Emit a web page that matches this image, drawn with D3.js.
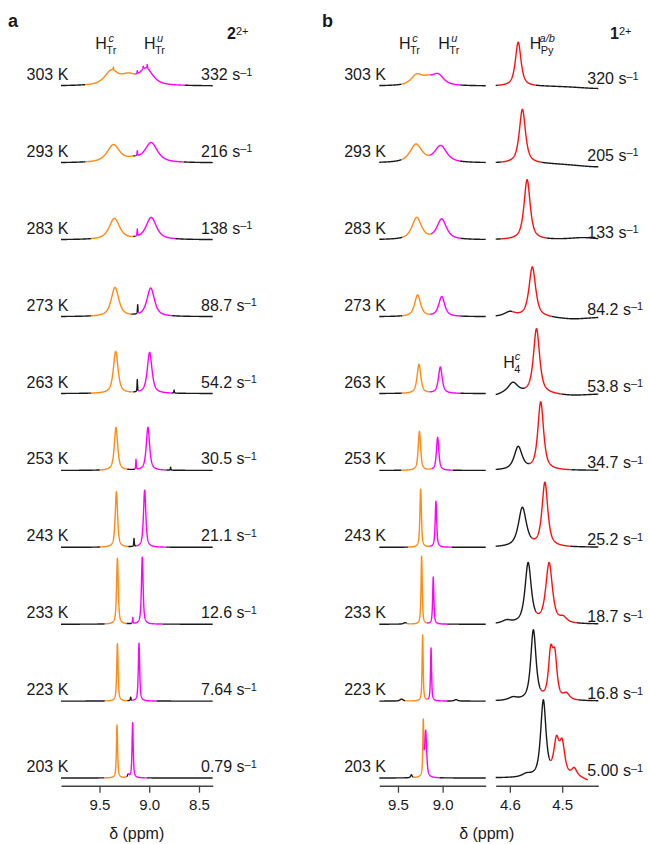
<!DOCTYPE html>
<html>
<head>
<meta charset="utf-8">
<script src="https://cdn.jsdelivr.net/npm/d3@7"></script>
<style>
  body { margin: 0; background: #fff; }
  text { font-family: "Liberation Sans", Arial, sans-serif; fill: #1a1a1a; }
</style>
</head>
<body>
<svg id="chart" width="649" height="844"></svg>
<script>
// ---- data ----
const temps = ["303 K", "293 K", "283 K", "273 K", "263 K", "253 K", "243 K", "233 K", "223 K", "203 K"];
const ratesA = ["332", "216", "138", "88.7", "54.2", "30.5", "21.1", "12.6", "7.64", "0.79"];
const ratesB = ["320", "205", "133", "84.2", "53.8", "34.7", "25.2", "18.7", "16.8", "5.00"];

const ticksA = [9.5, 9.0, 8.5];
const ticksBL = [9.5, 9.0];
const ticksBR = [4.6, 4.5];

// peaks per spectrum: [shift (ppm), height (a.u.), half width (ppm)]
const peaksA = [
  [[9.38, 14, 0.08], [9.21, 9, 0.09], [9.03, 16, 0.08], [9.36, 3, 0.003], [9.12, 3, 0.003], [9.06, 3, 0.003], [9.02, 4, 0.003]],
  [[9.36, 17.5, 0.075], [8.98, 19.5, 0.075], [9.16, 3, 0.08], [9.12, 5, 0.003]],
  [[9.35, 21, 0.062], [8.98, 22, 0.062], [9.12, 7, 0.003]],
  [[9.344, 29, 0.045], [8.985, 28.3, 0.045], [9.116, 9, 0.003]],
  [[9.337, 42, 0.028], [8.996, 41, 0.028], [9.12, 12, 0.003], [8.75, 3, 0.003]],
  [[9.334, 43, 0.02], [9.013, 43, 0.02], [9.133, 10, 0.003], [8.785, 3, 0.003]],
  [[9.33, 55.5, 0.014], [9.046, 57, 0.014], [9.153, 8, 0.003]],
  [[9.32, 66, 0.01], [9.07, 67, 0.01], [9.166, 6, 0.003]],
  [[9.32, 57.5, 0.008], [9.103, 58, 0.008], [9.186, 3.5, 0.004]],
  [[9.324, 53, 0.007], [9.167, 55, 0.007], [9.21, 3, 0.01]]
];
const orangeA = [[9.64, 9.14], [9.64, 9.16], [9.58, 9.16], [9.58, 9.18], [9.58, 9.16],
                 [9.495, 9.22], [9.495, 9.21], [9.445, 9.227], [9.445, 9.22], [9.45, 9.227]];
const magentaA = [[9.14, 8.64], [9.14, 8.65], [9.14, 8.74], [9.11, 8.77], [9.11, 8.77],
                  [9.145, 8.825], [9.127, 8.83], [9.176, 8.865], [9.17, 8.925], [9.21, 9.026]];

const peaksBL = [
  [[9.29, 10, 0.075], [9.165, 6, 0.08], [9.05, 10, 0.075]],
  [[9.298, 18, 0.08], [9.022, 16.5, 0.08]],
  [[9.29, 21.7, 0.063], [9.01, 20.2, 0.063]],
  [[9.28, 21.5, 0.04], [9.01, 19.8, 0.04]],
  [[9.265, 29, 0.025], [9.026, 26.3, 0.025]],
  [[9.26, 39, 0.016], [9.056, 33, 0.016]],
  [[9.246, 58, 0.01], [9.075, 46, 0.01]],
  [[9.235, 68, 0.008], [9.105, 47, 0.008], [9.42, 1.5, 0.02]],
  [[9.224, 66, 0.007], [9.13, 53, 0.007], [9.46, 2, 0.02], [8.85, 1.5, 0.02]],
  [[9.217, 52, 0.006], [9.19, 46, 0.013], [9.35, 3, 0.01]]
];
const orangeB = [[9.46, 9.14], [9.46, 9.14], [9.45, 9.13], [9.45, 9.14], [9.45, 9.14],
                 [9.46, 9.123], [9.385, 9.142], [9.40, 9.18], [9.42, 9.17], [9.33, 9.205]];
const magentaB = [[9.14, 8.80], [9.14, 8.806], [9.13, 8.80], [9.14, 8.80], [9.14, 8.80],
                  [9.123, 8.888], [9.142, 8.899], [9.18, 8.95], [9.17, 8.95], [9.205, 9.03]];

const peaksBR = [
  [[4.584, 44, 0.0064], [4.43, -2.5, 0.05]],
  [[4.576, 54, 0.007], [4.43, -4, 0.06]],
  [[4.567, 60, 0.007], [4.46, 2, 0.03]],
  [[4.557, 50, 0.0075], [4.6, 4.5, 0.012], [4.48, -2.5, 0.04]],
  [[4.549, 65, 0.007], [4.594, 10.5, 0.011], [4.48, -2, 0.04], [4.627, -2, 0.01]],
  [[4.541, 68, 0.0065], [4.584, 23, 0.009]],
  [[4.533, 64, 0.0065], [4.576, 39, 0.009]],
  [[4.525, 60, 0.0075], [4.565, 60, 0.007], [4.498, 5, 0.008], [4.606, 3, 0.01]],
  [[4.522, 44, 0.005], [4.514, 40, 0.005], [4.555, 70, 0.006], [4.492, 6, 0.007], [4.594, 3, 0.01]],
  [[4.511, 33, 0.006], [4.5, 31, 0.006], [4.477, 8, 0.006], [4.536, 76, 0.006], [4.568, 3, 0.01], [4.45, -3, 0.01]]
];
const redB = [[4.623, 4.55], [4.616, 4.539], [4.616, 4.53], [4.595, 4.52], [4.571, 4.501],
              [4.562, 4.482], [4.558, 4.484], [4.549, 4.472], [4.541, 4.469], [4.522, 4.44]];
const endBR = [4.431, 4.431, 4.431, 4.431, 4.431, 4.431, 4.431, 4.431, 4.431, 4.451];

// ---- setup ----
const svg = d3.select("#chart");
const ORANGE = "#ff8a14", MAGENTA = "#ff00ff", RED = "#ff1010", INK = "#1a1a1a";
const ETA = 0.75; // lorentzian fraction of the line shape

const rowY = d3.scalePoint().domain(temps).range([86, 778]);
const yI = d3.scaleLinear().domain([0, 100]).range([0, -100]);

const xA = d3.scaleLinear().domain([9.887, 8.362]).range([61, 212.7]);
const xBL = d3.scaleLinear().domain([9.709, 8.518]).range([379.3, 485.7]);
const xBR = d3.scaleLinear().domain([4.627, 4.431]).range([495.7, 598.3]);

function shape(d, p) {
  const u = (d - p[0]) / p[2];
  return p[1] * (ETA / (1 + u * u) + (1 - ETA) * Math.exp(-Math.LN2 * u * u));
}

function inRange(d, r) { return d <= r[0] && d >= r[1]; }

function drawTrace(g, x, peaks, from, to, n, colorAt, y0) {
  const pts = d3.range(n + 1).map(i => {
    const d = from + (to - from) * i / n;
    return [d, peaks.reduce((s, p) => s + shape(d, p), 0)];
  });
  const segs = [];
  let cur = null;
  pts.forEach(p => {
    const c = colorAt(p[0]);
    if (!cur || cur.c !== c) {
      const prev = cur ? cur.pts[cur.pts.length - 1] : null;
      cur = { c: c, pts: prev ? [prev] : [] };
      segs.push(cur);
    }
    cur.pts.push(p);
  });
  const line = d3.line().x(p => x(p[0])).y(p => y0 + yI(p[1]));
  g.selectAll(null).data(segs).join("path")
    .attr("d", s => line(s.pts))
    .attr("fill", "none")
    .attr("stroke", s => s.c)
    .attr("stroke-width", 1.4)
    .attr("stroke-linejoin", "round");
}

function rateLabel(g, x, y, val) {
  const t = g.append("text").attr("x", x).attr("y", y).style("font-size", "16px");
  t.append("tspan").text(val + " s");
  t.append("tspan").attr("dy", -4.5).style("font-size", "11px").text("\u20131");
}

function hLabel(g, x, y, sub, sup) {
  const h = g.append("text").attr("x", x).attr("y", y).style("font-size", "16px").text("H");
  const w = h.node().getComputedTextLength();
  const s = g.append("text").attr("x", x + w - 0.5).attr("y", y + 4.7).style("font-size", "11px").text(sub);
  const sw = s.node().getComputedTextLength();
  g.append("text").attr("x", x + w - 0.5 + sw / 2).attr("y", y - 7.6)
    .attr("text-anchor", "middle").style("font-size", "11px").style("font-style", "italic").text(sup);
}

function compound(g, x, y, num) {
  const t = g.append("text").attr("x", x).attr("y", y).style("font-size", "16px");
  t.append("tspan").style("font-weight", "bold").text(num);
  t.append("tspan").attr("dy", -4).style("font-size", "11px").text("2+");
}

function axis(g, x, ticks, fmt) {
  const ax = g.append("g").attr("transform", "translate(0,785.7)")
    .call(d3.axisBottom(x).tickValues(ticks).tickFormat(d3.format(fmt))
      .tickSize(7).tickSizeOuter(0).tickPadding(7));
  ax.select(".domain").attr("stroke", "#444").attr("stroke-width", 1.4);
  ax.selectAll(".tick line").attr("stroke", "#444").attr("stroke-width", 1.3);
  ax.selectAll(".tick text").style("font-size", "15px").attr("fill", "#1a1a1a")
    .style("font-family", "'Liberation Sans', Arial, sans-serif");
}

// ---- panel a ----
const gA = svg.append("g");
temps.forEach((t, i) => {
  const y0 = rowY(t);
  drawTrace(gA, xA, peaksA[i], xA.domain()[0], xA.domain()[1], 1400,
    d => inRange(d, orangeA[i]) ? ORANGE : inRange(d, magentaA[i]) ? MAGENTA : INK, y0);
  gA.append("text").attr("x", 26.5).attr("y", y0 - 6).style("font-size", "16px").text(t);
  rateLabel(gA, 201, y0 - 6, ratesA[i]);
});
axis(gA, xA, ticksA, ".1f");
gA.append("text").attr("x", 136.7).attr("y", 839).attr("text-anchor", "middle")
  .style("font-size", "16px").text("\u03b4 (ppm)");
gA.append("text").attr("x", 8).attr("y", 27).style("font-size", "18px").style("font-weight", "bold").text("a");
hLabel(gA, 95.3, 49.3, "Tr", "c");
hLabel(gA, 144, 49.3, "Tr", "u");
compound(gA, 227, 39.3, "2");

// ---- panel b ----
const gB = svg.append("g");
temps.forEach((t, i) => {
  const y0 = rowY(t);
  drawTrace(gB, xBL, peaksBL[i], xBL.domain()[0], xBL.domain()[1], 1000,
    d => inRange(d, orangeB[i]) ? ORANGE : inRange(d, magentaB[i]) ? MAGENTA : INK, y0);
  drawTrace(gB, xBR, peaksBR[i], xBR.domain()[0], endBR[i], 700,
    d => inRange(d, redB[i]) ? RED : INK, y0);
  gB.append("text").attr("x", 344.2).attr("y", y0 - 6).style("font-size", "16px").text(t);
  rateLabel(gB, 587.3, y0 - 2, ratesB[i]);
});
axis(gB, xBL, ticksBL, ".1f");
axis(gB, xBR, ticksBR, ".1f");
gB.append("text").attr("x", 486.7).attr("y", 839).attr("text-anchor", "middle")
  .style("font-size", "16px").text("\u03b4 (ppm)");
gB.append("text").attr("x", 322).attr("y", 27).style("font-size", "18px").style("font-weight", "bold").text("b");
hLabel(gB, 399, 49.3, "Tr", "c");
hLabel(gB, 438.3, 49.3, "Tr", "u");
hLabel(gB, 529.7, 49.3, "Py", "a/b");
hLabel(gB, 503.3, 368, "4", "c");
compound(gB, 610, 39.3, "1");
</script>
</body>
</html>
